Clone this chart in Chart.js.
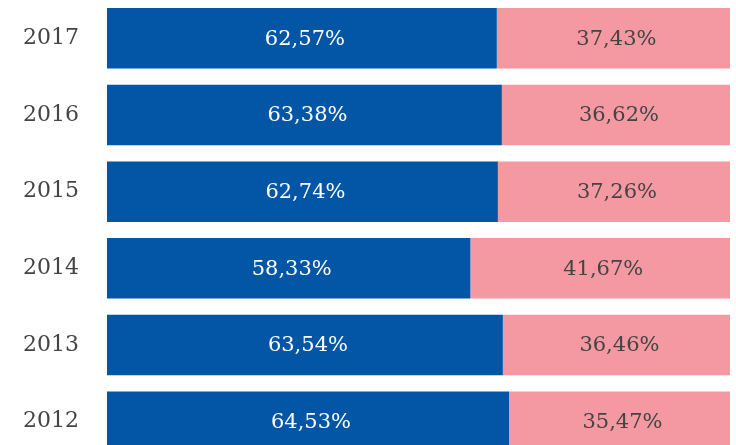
<!DOCTYPE html>
<html>
<head>
<meta charset="utf-8">
<script src="https://cdn.jsdelivr.net/npm/chart.js@4/dist/chart.umd.min.js"></script>
<style>
  html, body { margin: 0; padding: 0; background: #fff; overflow: hidden; }
  .wrap { position: relative; width: 736px; height: 460px; }
</style>
</head>
<body>
<div class="wrap"><canvas id="c"></canvas></div>
<script>
// Share per year, 100% stacked horizontal bars
const years = ['2017', '2016', '2015', '2014', '2013', '2012'];
const blueShare = [62.57, 63.38, 62.74, 58.33, 63.54, 64.53];
const pinkShare = [37.43, 36.62, 37.26, 41.67, 36.46, 35.47];

const FONT = "'DejaVu Serif', serif";

function fmt(v) {
    return v.toFixed(2).replace('.', ',') + '%';
}

// draw the value in the middle of each segment
const valueLabels = {
    id: 'valueLabels',
    afterDatasetsDraw: function (chart) {
        const ctx = chart.ctx;
        ctx.save();
        ctx.font = '21px ' + FONT;
        ctx.textAlign = 'center';
        ctx.textBaseline = 'middle';
        chart.data.datasets.forEach(function (ds, i) {
            const meta = chart.getDatasetMeta(i);
            ctx.fillStyle = ds.labelColor;
            meta.data.forEach(function (bar, j) {
                const x = (bar.x + bar.base) / 2 + 3;
                ctx.fillText(fmt(ds.data[j]), x, bar.y + 1);
            });
        });
        ctx.restore();
    }
};

new Chart(document.getElementById('c'), {
    type: 'bar',
    data: {
        labels: years,
        datasets: [
            { data: blueShare, backgroundColor: '#0355a6', labelColor: '#ffffff' },
            { data: pinkShare, backgroundColor: '#f498a2', labelColor: '#444444' }
        ]
    },
    options: {
        indexAxis: 'y',
        responsive: true,
        maintainAspectRatio: false,
        animation: false,
        layout: { padding: { top: 0, right: 6, bottom: 0, left: 0 } },
        datasets: {
            bar: { barPercentage: 1, categoryPercentage: 0.79, borderWidth: 0 }
        },
        scales: {
            x: { stacked: true, min: 0, max: 100, display: false },
            y: {
                stacked: true,
                grid: { display: false },
                border: { display: false },
                ticks: {
                    color: '#444444',
                    padding: 20,
                    font: { family: FONT, size: 22 }
                },
                afterFit: function (s) {
                    s.width = 107;
                    s.paddingTop = 0;
                    s.paddingBottom = 0;
                }
            }
        },
        plugins: {
            legend: { display: false },
            tooltip: { enabled: false }
        }
    },
    plugins: [valueLabels]
});
</script>
</body>
</html>
